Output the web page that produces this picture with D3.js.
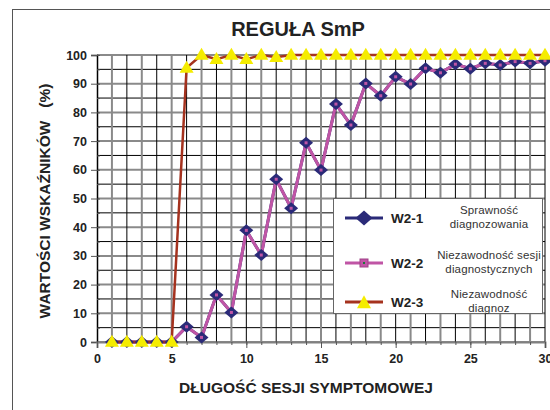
<!DOCTYPE html>
<html>
<head>
<meta charset="utf-8">
<script src="https://cdn.jsdelivr.net/npm/d3@7"></script>
<style>
    body { margin: 0; background: #fff; }
    svg { display: block; font-family: Arial, "Liberation Sans", sans-serif; }
</style>
</head>
<body>
<svg id="chart" width="550" height="410"></svg>
<script>
// Session length (x categories)
const sessionLength = [1, 2, 3, 4, 5, 6, 7, 8, 9, 10, 11, 12, 13, 14, 15,
                       16, 17, 18, 19, 20, 21, 22, 23, 24, 25, 26, 27, 28, 29, 30];

// W2-1 Sprawność diagnozowania
const w21 = [0, 0, 0, 0, 0, 5.3, 1.6, 16.4, 10.3, 38.9, 30.3, 56.7, 46.6, 69.4, 59.9,
             82.9, 75.6, 90.1, 85.8, 92.4, 89.9, 95.4, 93.8, 96.8, 95.2, 97.1, 96.5, 97.7, 97.1, 98.0];
// W2-2 Niezawodność sesji diagnostycznych (same values as W2-1)
const w22 = [0, 0, 0, 0, 0, 5.3, 1.6, 16.4, 10.3, 38.9, 30.3, 56.7, 46.6, 69.4, 59.9,
             82.9, 75.6, 90.1, 85.8, 92.4, 89.9, 95.4, 93.8, 96.8, 95.2, 97.1, 96.5, 97.7, 97.1, 98.0];
// W2-3 Niezawodność diagnoz
const w23 = [0, 0, 0, 0, 0, 95.5, 100, 98.5, 100, 98.5, 100, 99.2, 100, 100, 100,
             100, 100, 100, 100, 100, 100, 100, 100, 100, 100, 100, 100, 100, 100, 100];

const xTicks = [0, 5, 10, 15, 20, 25, 30];
const yTicks = [0, 10, 20, 30, 40, 50, 60, 70, 80, 90, 100];

const legendItems = [
    { key: 'W2-1', lines: ['Sprawność', 'diagnozowania'] },
    { key: 'W2-2', lines: ['Niezawodność sesji', 'diagnostycznych'] },
    { key: 'W2-3', lines: ['Niezawodność', 'diagnoz'] }
];

const navy = '#2a2a78', pink = '#c055a5', brown = '#a5321e', yellow = '#f5ec00';

const svg = d3.select('#chart');

// outer chart frame (cut off on right and bottom)
svg.append('rect')
    .attr('x', 12.5).attr('y', 9.5)
    .attr('width', 600).attr('height', 450)
    .attr('fill', '#fff').attr('stroke', '#555');

const x = d3.scaleLinear().domain([0, 30]).range([97, 545]);
const y = d3.scaleLinear().domain([0, 100]).range([342, 55]);

// grid
const grid = svg.append('g');
grid.selectAll('.hgrid')
    .data(y.ticks(20))
    .enter().append('line')
    .attr('x1', x(0)).attr('x2', x(30))
    .attr('y1', d => y(d)).attr('y2', d => y(d))
    .attr('stroke', d => d % 10 === 0 ? '#8a8a8a' : '#000')
    .attr('stroke-width', d => d % 10 === 0 ? 2 : 1);
grid.selectAll('.vgrid')
    .data(x.ticks(30).filter(d => d > 0))
    .enter().append('line')
    .attr('x1', d => x(d)).attr('x2', d => x(d))
    .attr('y1', y(0)).attr('y2', y(100))
    .attr('stroke', d => d % 2 === 1 ? '#8a8a8a' : '#000')
    .attr('stroke-width', d => d % 2 === 1 ? 2 : 1);

// axes
const yAxis = svg.append('g')
    .attr('transform', `translate(${x(0)},0)`)
    .call(d3.axisLeft(y).tickValues(yTicks).tickSize(6).tickPadding(4));
svg.append('g')
    .attr('transform', `translate(${x(0)},0)`)
    .call(d3.axisRight(y).tickValues(y.ticks(20)).tickSize(3).tickFormat(''))
    .select('.domain').remove();
const xAxis = svg.append('g')
    .attr('transform', `translate(0,${y(0)})`)
    .call(d3.axisBottom(x).tickValues(xTicks).tickSize(6).tickPadding(6));
svg.append('g')
    .attr('transform', `translate(0,${y(0)})`)
    .call(d3.axisBottom(x).tickValues(sessionLength).tickSize(3).tickFormat(''))
    .select('.domain').remove();

svg.selectAll('.domain, .tick line').attr('stroke', '#555');
yAxis.select('.domain').attr('stroke', '#000').attr('stroke-width', 1.5);
xAxis.select('.domain').attr('stroke', '#808080').attr('stroke-width', 2);
svg.selectAll('.tick text')
    .style('font-size', '12.5px')
    .style('font-weight', 'bold')
    .attr('fill', '#222');

// series lines
const line = d3.line()
    .x((d, i) => x(sessionLength[i]))
    .y(d => y(d));

svg.append('path').datum(w21)
    .attr('d', line).attr('fill', 'none')
    .attr('stroke', navy).attr('stroke-width', 3);
svg.append('path').datum(w22)
    .attr('d', line).attr('fill', 'none')
    .attr('stroke', pink).attr('stroke-width', 3);
svg.append('path').datum(w23)
    .attr('d', line).attr('fill', 'none')
    .attr('stroke', brown).attr('stroke-width', 2.5);

// marker shapes
const diamond = (w, h) => `M0,${-h / 2}L${w / 2},0L0,${h / 2}L${-w / 2},0Z`;
const triangle = (w, h) => `M0,${-h * 0.6}L${w / 2},${h * 0.4}L${-w / 2},${h * 0.4}Z`;

svg.append('g').selectAll('path')
    .data(w21)
    .enter().append('path')
    .attr('d', diamond(14, 12))
    .attr('transform', (d, i) => `translate(${x(sessionLength[i])},${y(d)})`)
    .attr('fill', navy);

svg.append('g').selectAll('rect')
    .data(w22)
    .enter().append('rect')
    .attr('x', (d, i) => x(sessionLength[i]) - 1.5)
    .attr('y', d => y(d) - 1.5)
    .attr('width', 3).attr('height', 3)
    .attr('fill', pink);

svg.append('g').selectAll('path')
    .data(w23)
    .enter().append('path')
    .attr('d', triangle(14, 12))
    .attr('transform', (d, i) => `translate(${x(sessionLength[i])},${y(d)})`)
    .attr('fill', yellow);

// title
svg.append('text')
    .attr('x', 298).attr('y', 36)
    .attr('text-anchor', 'middle')
    .style('font-size', '20px').style('font-weight', 'bold')
    .attr('fill', '#222')
    .text('REGUŁA SmP');

// axis titles
svg.append('text')
    .attr('x', 306).attr('y', 393)
    .attr('text-anchor', 'middle')
    .style('font-size', '15.5px').style('font-weight', 'bold')
    .attr('fill', '#222')
    .text('DŁUGOŚĆ SESJI SYMPTOMOWEJ');

svg.append('text')
    .attr('transform', 'translate(44,201) rotate(-90)')
    .attr('text-anchor', 'middle')
    .attr('dy', '0.36em')
    .style('font-size', '15.5px').style('font-weight', 'bold')
    .style('white-space', 'pre')
    .attr('fill', '#222')
    .text('WARTOŚCI WSKAŹNIKÓW   (%)');

// legend
const legend = svg.append('g');
legend.append('rect')
    .attr('x', 333.5).attr('y', 198.5)
    .attr('width', 209).attr('height', 115)
    .attr('fill', '#fff').attr('stroke', '#666');

const rowY = [218, 263, 302];
const rows = legend.selectAll('.row')
    .data(legendItems)
    .enter().append('g')
    .attr('transform', (d, i) => `translate(0,${rowY[i]})`);

rows.append('line')
    .attr('x1', 345).attr('x2', 383)
    .attr('stroke', (d, i) => [navy, pink, brown][i])
    .attr('stroke-width', 3);

rows.filter((d, i) => i === 0).append('path')
    .attr('d', diamond(17, 15))
    .attr('transform', 'translate(364,0)')
    .attr('fill', navy);
rows.filter((d, i) => i === 1).append('rect')
    .attr('x', 360).attr('y', -4).attr('width', 8).attr('height', 8)
    .attr('fill', pink).attr('stroke', '#a04088');
rows.filter((d, i) => i === 1).append('rect')
    .attr('x', 363).attr('y', -1).attr('width', 2).attr('height', 2)
    .attr('fill', '#1a7a3a');
rows.filter((d, i) => i === 2).append('path')
    .attr('d', triangle(14, 13))
    .attr('transform', 'translate(364,1)')
    .attr('fill', yellow);

rows.append('text')
    .attr('x', 391).attr('y', 5)
    .style('font-size', '13.5px').style('font-weight', 'bold')
    .attr('fill', '#222')
    .text(d => d.key);

rows.each(function(d) {
    const t = d3.select(this).append('text')
        .attr('x', 489)
        .attr('text-anchor', 'middle')
        .style('font-size', '11.5px')
        .style('letter-spacing', '0.15px')
        .attr('fill', '#333');
    d.lines.forEach((s, j) => {
        t.append('tspan').attr('x', 489).attr('y', j === 0 ? -4 : 10).text(s);
    });
});
</script>
</body>
</html>
